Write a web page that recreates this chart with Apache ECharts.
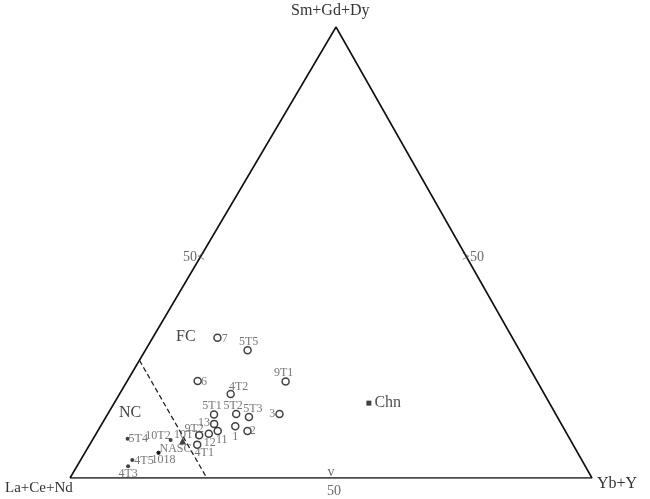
<!DOCTYPE html>
<html>
<head>
<meta charset="utf-8">
<script src="https://cdn.jsdelivr.net/npm/echarts@6/dist/echarts.min.js"></script>
<style>
  html, body { margin: 0; padding: 0; background: #fff; }
  #main { width: 650px; height: 499px; }
</style>
</head>
<body>
<div id="main"></div>
<script>
// 三元图: La+Ce+Nd (左) / Sm+Gd+Dy (上) / Yb+Y (右), 单位 %
const sampleNames = ['7', '5T5', '9T1', '6', '4T2', '5T1', '5T2', '5T3', '3', '13', '1', '2', '11', '9T2', '12', '4T1'];
const sampleLCN = [56.5, 52.1, 48.2, 65.0, 60.1, 65.5, 61.2, 59.1, 52.9, 66.5, 62.7, 60.9, 66.6, 70.6, 68.6, 72.0];
const sampleSGD = [31.1, 28.3, 21.4, 21.5, 18.6, 14.1, 14.2, 13.5, 14.2, 12.0, 11.5, 10.4, 10.4, 9.5, 9.8, 7.4];
const sampleYbY = [12.4, 19.6, 30.4, 13.5, 21.3, 20.4, 24.6, 27.4, 32.9, 21.5, 25.8, 28.7, 23.0, 19.9, 21.6, 20.6];

const dotNames = ['5T4', '10T2', 'NASC', '1018', '4T5', '4T3'];
const dotLCN = [84.7, 76.6, 80.3, 80.3, 86.1, 87.6];
const dotSGD = [8.7, 8.4, 5.6, 5.6, 4.0, 2.6];
const dotYbY = [6.6, 15.0, 14.1, 14.1, 9.9, 9.8];

const triNames = ['10T1'];
const triLCN = [74.4];
const triSGD = [8.2];
const triYbY = [17.4];

const chnNames = ['Chn'];
const chnLCN = [34.6];
const chnSGD = [16.6];
const chnYbY = [48.8];

// NC/FC 分界线 (虚线) 两端
const divLCN = [73.9, 73.8];
const divSGD = [26.1, 0];
const divYbY = [0, 26.2];

// 三角形顶点: 左, 右, 上
const vertLCN = [100, 0, 0, 100];
const vertSGD = [0, 0, 100, 0];
const vertYbY = [0, 100, 0, 0];

// 标签位置 [position, offset]
const labelPos = {
    '7': ['right', [-1, 1]],
    '5T5': ['top', [1, 3]],
    '9T1': ['top', [-2, 3]],
    '6': ['right', [-2, 1]],
    '4T2': ['top', [8, 4]],
    '5T1': ['top', [-2, 3]],
    '5T2': ['top', [-3, 3]],
    '5T3': ['top', [4, 3]],
    '3': ['left', [1, 0]],
    '13': ['left', [1, -1]],
    '1': ['bottom', [0, -1]],
    '2': ['right', [-3, 0]],
    '11': ['bottom', [4, -3]],
    '9T2': ['top', [-5, 5]],
    '12': ['bottom', [1, -2]],
    '4T1': ['bottom', [7, -3]],
    '5T4': ['right', [-2, 0]],
    '10T2': ['left', [3, -4]],
    'NASC': ['right', [-2, -4]],
    '1018': ['bottom', [5, -2]],
    '4T5': ['right', [-1, 1]],
    '4T3': ['bottom', [0, -1]],
    '10T1': ['top', [4, 4]],
    'Chn': ['right', [0, 0]]
};

const H = Math.sqrt(3) / 2 * 100;
// 原图顶点略偏右
const apexX = 0.5096;

function toXY(l, m, h) {
    let s = l + m + h;
    let a = m / s * 100;
    let c = h / s * 100;
    return [c + a * apexX, a * Math.sqrt(3) / 2];
}

function buildData(names, lcn, sgd, yby) {
    return names.map((n, i) => {
        let p = labelPos[n] || ['right', [0, 0]];
        return {
            name: n,
            value: toXY(lcn[i], sgd[i], yby[i]),
            label: { position: p[0], offset: p[1] }
        };
    });
}

const serif = '"Liberation Serif", "DejaVu Serif", serif';
const ptLabel = {
    show: true,
    formatter: '{b}',
    fontFamily: serif,
    fontSize: 12,
    color: '#555',
    distance: 1
};

let myChart = echarts.init(document.getElementById('main'));

let option = {
    animation: false,
    grid: { left: 70, right: 58, top: 27, bottom: 21 },
    xAxis: { type: 'value', min: 0, max: 100, show: false },
    yAxis: { type: 'value', min: 0, max: H, show: false },
    series: [
        {
            type: 'line',
            data: vertLCN.map((v, i) => toXY(v, vertSGD[i], vertYbY[i])),
            symbol: 'none',
            lineStyle: { color: '#111', width: 1.6 },
            z: 1
        },
        {
            type: 'line',
            data: divLCN.map((v, i) => toXY(v, divSGD[i], divYbY[i])),
            symbol: 'none',
            lineStyle: { color: '#222', width: 1.3, type: [5, 3] },
            z: 1
        },
        {
            type: 'scatter',
            data: buildData(sampleNames, sampleLCN, sampleSGD, sampleYbY),
            symbol: 'circle',
            symbolSize: 7,
            itemStyle: { color: '#fff', borderColor: '#111', borderWidth: 1.5 },
            label: ptLabel,
            z: 3
        },
        {
            type: 'scatter',
            data: buildData(dotNames, dotLCN, dotSGD, dotYbY),
            symbol: 'circle',
            symbolSize: 4,
            itemStyle: { color: '#111' },
            label: ptLabel,
            z: 3
        },
        {
            type: 'scatter',
            data: buildData(triNames, triLCN, triSGD, triYbY),
            symbol: 'triangle',
            symbolSize: 7,
            itemStyle: { color: '#111' },
            label: ptLabel,
            z: 3
        },
        {
            type: 'scatter',
            data: buildData(chnNames, chnLCN, chnSGD, chnYbY),
            symbol: 'rect',
            symbolSize: 5,
            itemStyle: { color: '#111' },
            label: Object.assign({}, ptLabel, { fontSize: 16, color: '#222', distance: 3 }),
            z: 3
        },
        // 50% 刻度
        {
            type: 'scatter',
            symbolSize: 0,
            silent: true,
            data: [
                { value: toXY(50, 50, 0), label: { formatter: '50<', position: 'inside', offset: [-9, 5] } },
                { value: toXY(0, 50, 50), label: { formatter: '>50', position: 'inside', offset: [9, 5] } },
                { value: toXY(50, 0, 50), label: { formatter: 'v', position: 'inside', offset: [0, -6] } },
                { value: toXY(50, 0, 50), label: { formatter: '50', position: 'inside', offset: [3, 13] } }
            ],
            label: { show: true, fontFamily: serif, fontSize: 14, color: '#444' },
            z: 2
        }
    ],
    graphic: [
        { type: 'text', left: 291, top: 3, style: { text: 'Sm+Gd+Dy', font: '16px ' + serif, fill: '#333' } },
        { type: 'text', left: 5, top: 481, style: { text: 'La+Ce+Nd', font: '15px ' + serif, fill: '#333' } },
        { type: 'text', left: 597, top: 476, style: { text: 'Yb+Y', font: '16px ' + serif, fill: '#333' } },
        { type: 'text', left: 176, top: 329, style: { text: 'FC', font: '16px ' + serif, fill: '#444' } },
        { type: 'text', left: 119, top: 405, style: { text: 'NC', font: '16px ' + serif, fill: '#444' } }
    ]
};

myChart.setOption(option);
</script>
</body>
</html>
